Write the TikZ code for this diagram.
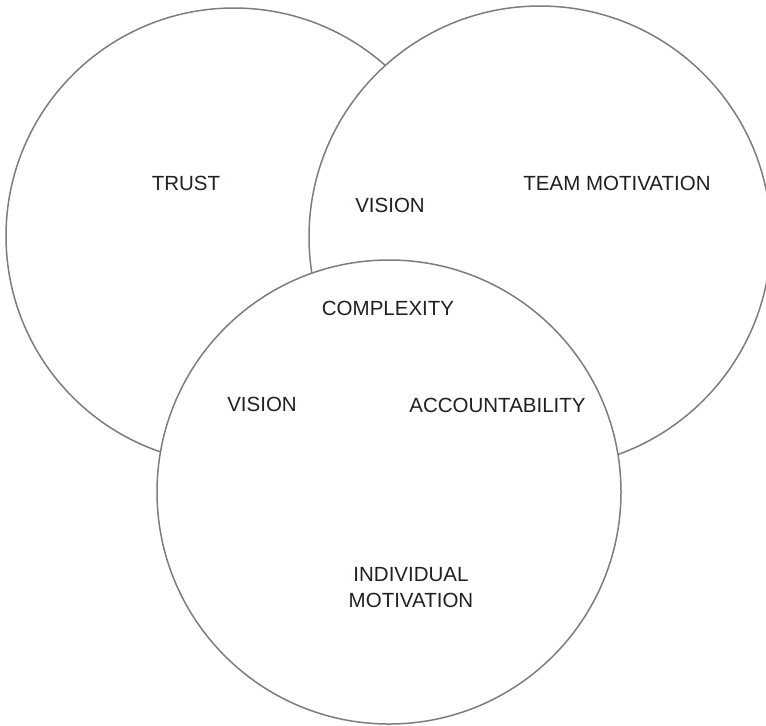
\documentclass[tikz,border=0pt]{standalone}
\usepackage{fontspec}
\setmainfont{Liberation Sans}
\usepackage{tikz}
\usetikzlibrary{positioning}
\definecolor{ringgray}{RGB}{125,125,128}
\definecolor{labelblack}{RGB}{35,31,32}

\begin{document}
\begin{tikzpicture}[x=0.5pt,y=-0.5pt,node font=\fontsize{10.25}{13.35}\selectfont]
	\tikzstyle{ring}=[circle,draw=ringgray,line width=0.75pt,fill=white,inner sep=0pt,outer sep=0pt]
	\tikzstyle{word}=[text=labelblack,inner sep=0pt,align=center]

	\clip (0,0) rectangle (766,725);

	% back to front
	\node[ring,minimum size=228pt] (RTrust) at (234,236) {};
	\node[ring,minimum size=231pt] (RTeam)  at (540,237) {};
	\node[ring,minimum size=232pt] (RSelf)  at (389,492) {};

	\node[word] (trust)   at (186,183)   {TRUST};
	\node[word] (visionA) at (390,205)   {VISION};
	\node[word] (teammot) at (617,183.5) {TEAM MOTIVATION};
	\node[word] (complex) at (388,308.5) {COMPLEXITY};
	\node[word] (visionB) at (262,404.5) {VISION};
	\node[word] (account) at (497.5,405.5) {ACCOUNTABILITY};
	\node[word] (indmot)  at (411,587.5) {INDIVIDUAL\\MOTIVATION};
\end{tikzpicture}
\end{document}
